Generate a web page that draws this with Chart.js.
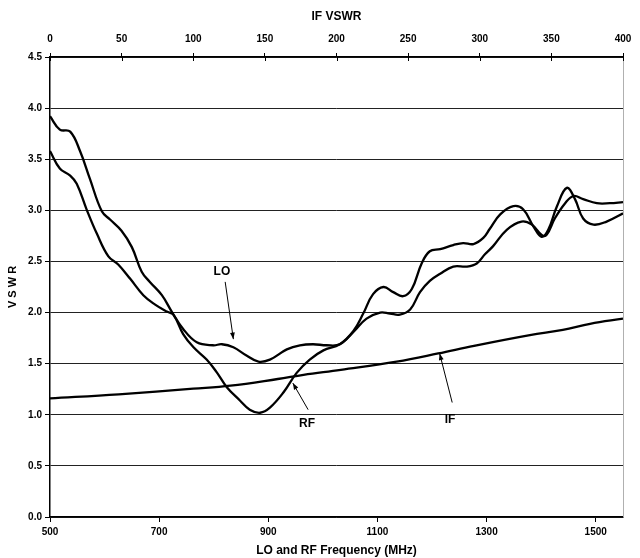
<!DOCTYPE html>
<html>
<head>
<meta charset="utf-8">
<script src="https://cdn.jsdelivr.net/npm/chart.js@4.4.0/dist/chart.umd.min.js"></script>
<style>
  html, body { margin: 0; padding: 0; background: #fff; }
  #wrap { width: 640px; height: 558px; }
</style>
</head>
<body>
<div id="wrap"><canvas id="chartCanvas" width="640" height="558"></canvas></div>
<script>
// LO port VSWR vs frequency (MHz)
const loFreq = [500, 518, 537, 555, 573, 595, 610, 631, 650, 668, 683, 705, 723, 744, 769, 799, 815, 836, 860, 882, 903, 934, 958, 982, 1007, 1031,
  1056, 1080, 1105, 1123, 1141, 1160, 1178, 1196, 1215, 1239, 1264, 1282, 1297, 1312, 1337, 1364, 1383, 1401, 1410, 1425, 1444, 1459, 1477, 1502, 1526, 1550];
const loVswr = [3.92, 3.79, 3.77, 3.58, 3.31, 2.99, 2.91, 2.80, 2.64, 2.40, 2.30, 2.17, 2.01, 1.84, 1.71, 1.68, 1.69, 1.66, 1.58, 1.52, 1.54, 1.64, 1.68, 1.69, 1.68, 1.69,
  1.81, 1.94, 2.00, 1.99, 1.98, 2.03, 2.20, 2.31, 2.38, 2.45, 2.45, 2.48, 2.57, 2.65, 2.81, 2.89, 2.86, 2.76, 2.76, 2.92, 3.07, 3.14, 3.11, 3.07, 3.07, 3.08];

// RF port VSWR vs frequency (MHz)
const rfFreq = [500, 518, 537, 549, 567, 586, 607, 625, 647, 671, 692, 714, 726, 744, 763, 787, 805, 824, 848, 866, 885, 903, 928, 952, 976, 1001, 1031,
  1056, 1074, 1092, 1111, 1129, 1147, 1163, 1181, 1196, 1215, 1239, 1257, 1276, 1294, 1306, 1325, 1349, 1367, 1386, 1401, 1413, 1429, 1447, 1462, 1477, 1496, 1520, 1550];
const rfVswr = [3.58, 3.41, 3.34, 3.26, 3.01, 2.77, 2.55, 2.47, 2.33, 2.17, 2.08, 2.01, 1.98, 1.79, 1.66, 1.54, 1.42, 1.27, 1.14, 1.05, 1.02, 1.07, 1.22, 1.41, 1.54, 1.63, 1.69,
  1.82, 1.99, 2.18, 2.25, 2.20, 2.16, 2.23, 2.48, 2.60, 2.62, 2.66, 2.68, 2.67, 2.73, 2.82, 2.96, 3.04, 3.01, 2.84, 2.74, 2.81, 3.04, 3.22, 3.11, 2.92, 2.86, 2.89, 2.97];

// IF port VSWR vs IF frequency (MHz, top axis)
const ifFreq = [0, 48, 100, 126, 159, 177, 203, 242, 271, 296, 335, 358, 377, 400];
const ifVswr = [1.16, 1.20, 1.255, 1.285, 1.35, 1.39, 1.44, 1.52, 1.60, 1.675, 1.78, 1.83, 1.89, 1.94];

const xTicks = [500, 700, 900, 1100, 1300, 1500];
const x2Ticks = [0, 50, 100, 150, 200, 250, 300, 350, 400];
const yTicks = [0, 0.5, 1.0, 1.5, 2.0, 2.5, 3.0, 3.5, 4.0, 4.5];

// callout labels: text, text position, arrow tail, arrow tip (LO/RF MHz, VSWR)
const calloutText = ["LO", "RF", "IF"];
const calloutAt = [[815, 2.40], [971, 0.91], [1233, 0.95]];
const arrowFrom = [[821, 2.30], [973, 1.05], [1237, 1.12]];
const arrowTo = [[836, 1.74], [945, 1.31], [1214, 1.60]];

const FONT = "'Liberation Sans', Arial, sans-serif";

function pts(xs, ys) {
  return xs.map((x, i) => ({ x: x, y: ys[i] }));
}

const callouts = {
  id: "callouts",
  afterDatasetsDraw(chart) {
    const ctx = chart.ctx;
    const xs = chart.scales.x;
    const ys = chart.scales.y;
    const area = chart.chartArea;
    ctx.save();
    // right border
    ctx.strokeStyle = "#b0b0b0";
    ctx.lineWidth = 1;
    ctx.beginPath();
    ctx.moveTo(area.right + 0.5, area.top);
    ctx.lineTo(area.right + 0.5, area.bottom);
    ctx.stroke();

    ctx.fillStyle = "#000";
    ctx.strokeStyle = "#000";
    ctx.font = "bold 12px " + FONT;
    ctx.textAlign = "center";
    ctx.textBaseline = "middle";
    for (let i = 0; i < calloutText.length; i++) {
      ctx.fillText(calloutText[i], xs.getPixelForValue(calloutAt[i][0]), ys.getPixelForValue(calloutAt[i][1]));
      const x1 = xs.getPixelForValue(arrowFrom[i][0]), y1 = ys.getPixelForValue(arrowFrom[i][1]);
      const x2 = xs.getPixelForValue(arrowTo[i][0]), y2 = ys.getPixelForValue(arrowTo[i][1]);
      ctx.lineWidth = 1;
      ctx.beginPath();
      ctx.moveTo(x1, y1);
      ctx.lineTo(x2, y2);
      ctx.stroke();
      const a = Math.atan2(y2 - y1, x2 - x1);
      ctx.beginPath();
      ctx.moveTo(x2, y2);
      ctx.lineTo(x2 - 7 * Math.cos(a - 0.35), y2 - 7 * Math.sin(a - 0.35));
      ctx.lineTo(x2 - 7 * Math.cos(a + 0.35), y2 - 7 * Math.sin(a + 0.35));
      ctx.closePath();
      ctx.fill();
    }
    // small inner tick marks on the top axis
    const top = chart.scales.x2;
    ctx.lineWidth = 1;
    x2Ticks.forEach(v => {
      const px = Math.round(top.getPixelForValue(v)) + 0.5;
      ctx.beginPath();
      ctx.moveTo(px, area.top);
      ctx.lineTo(px, area.top + 4);
      ctx.stroke();
    });
    ctx.restore();
  }
};

const lineStyle = {
  borderColor: "#000",
  borderWidth: 2.3,
  pointRadius: 0,
  tension: 0.4,
  fill: false
};

const ctx = document.getElementById("chartCanvas").getContext("2d");
const chart = new Chart(ctx, {
  type: "line",
  data: {
    datasets: [
      Object.assign({ label: "LO", data: pts(loFreq, loVswr), xAxisID: "x", yAxisID: "y" }, lineStyle),
      Object.assign({ label: "RF", data: pts(rfFreq, rfVswr), xAxisID: "x", yAxisID: "y" }, lineStyle),
      Object.assign({ label: "IF", data: pts(ifFreq, ifVswr), xAxisID: "x2", yAxisID: "y" }, lineStyle)
    ]
  },
  options: {
    responsive: false,
    animation: false,
    events: [],
    layout: { padding: { right: 17, top: 0, bottom: 0, left: 0 } },
    plugins: {
      legend: { display: false },
      tooltip: { enabled: false }
    },
    scales: {
      x: {
        type: "linear",
        position: "bottom",
        min: 500,
        max: 1550,
        afterBuildTicks: s => { s.ticks = xTicks.map(v => ({ value: v })); },
        afterFit: s => { s.height = 41; },
        grid: { drawOnChartArea: false, color: "#000", tickLength: 5, tickColor: "#000" },
        border: { color: "#000", width: 1.5 },
        ticks: { color: "#000", font: { family: FONT, size: 10, weight: "bold" }, padding: 4, maxRotation: 0, callback: v => String(v) },
        title: { display: true, text: "LO and RF Frequency (MHz)", color: "#000", font: { family: FONT, size: 12, weight: "bold" }, padding: { top: 2, bottom: 0 } }
      },
      x2: {
        type: "linear",
        position: "top",
        min: 0,
        max: 400,
        afterBuildTicks: s => { s.ticks = x2Ticks.map(v => ({ value: v })); },
        afterFit: s => { s.height = 57; },
        grid: { drawOnChartArea: false, color: "#000", tickLength: 4, tickColor: "#000" },
        border: { color: "#000", width: 1.5 },
        ticks: { color: "#000", font: { family: FONT, size: 10, weight: "bold" }, padding: 8, maxRotation: 0, callback: v => String(v) },
        title: { display: true, text: "IF VSWR", color: "#000", font: { family: FONT, size: 12, weight: "bold" }, padding: { top: 9, bottom: 6 } }
      },
      y: {
        type: "linear",
        position: "left",
        min: 0,
        max: 4.5,
        afterBuildTicks: s => { s.ticks = yTicks.map(v => ({ value: v })); },
        afterFit: s => { s.width = 50; },
        grid: { color: "#222", lineWidth: 1, tickLength: 5, tickColor: "#000" },
        border: { color: "#000", width: 1.5 },
        ticks: { color: "#000", font: { family: FONT, size: 10, weight: "bold" }, padding: 3, callback: v => v.toFixed(1) },
        title: { display: true, text: "V S W R", color: "#000", font: { family: FONT, size: 11, weight: "bold" }, padding: { top: 6, bottom: 2 } }
      }
    }
  },
  plugins: [callouts]
});
</script>
</body>
</html>
